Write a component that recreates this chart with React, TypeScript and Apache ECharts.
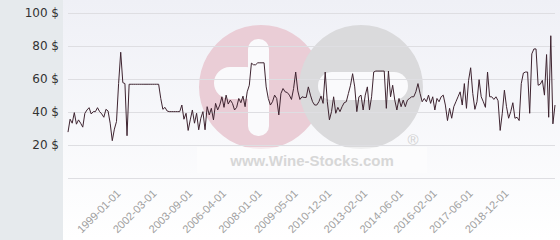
import React, { useEffect, useRef } from "react";
import * as echarts from "echarts";

// Prices, one per auction, left to right
const prices: number[] = [
  28, 35.8, 33.4, 39.8, 32.8, 35.4, 33.4, 31, 39.4, 41.4, 42.8, 39, 40.4, 40.4, 42.8, 40.4, 39, 37, 41.8, 40.8,
  33.4, 22.8, 29.8, 34.4, 57.4, 76.4, 58, 57.4, 25.8, 57,
  57, 57, 57, 57, 57, 57, 57, 57, 57, 57, 57, 57, 57, 57,
  48.4, 41.8, 43, 40.8, 40.4,
  40.4, 40.4, 40.4, 40.4, 40.4,
  44.4, 35.8, 39.4, 29, 35.4, 41.4, 33.4, 39.4, 29.4, 36.4, 40.4, 29.4, 43.4, 38.4, 42.4, 35.4, 45.4, 41.4, 44.4, 49.4,
  43, 50.4, 45, 47.4,
  45.4, 41.4, 43, 48.4, 45.8, 49.8, 43.4, 52.4, 56.4, 69.8, 68.8, 68.8, 70,
  70, 70, 70,
  55.4, 48.4, 44.4, 46.4, 50.4, 48.4, 38.4, 51.4, 54.4, 52.4, 52, 50.4, 47.8, 54.4, 64.4, 53, 47.8, 49.4, 49, 49,
  55.4,
  50.4, 46.4, 44.4, 44.4, 46.4, 49.8, 45.4, 64.4, 46.4, 35.4, 40.4, 49.4, 39.4, 43, 40.4, 43.4, 45.8, 46.4, 51.4, 56.4,
  63.4, 55.4, 40.4, 49.4, 50.4, 41.4, 50.4, 55.4, 41.4, 49.4, 64.4,
  65, 65, 65, 65, 65,
  42.4, 65, 49.4,
  56.4, 47.4, 41.4, 48.4, 43.4, 47.4, 43.4, 47.4, 48.4, 49.4, 49.4, 52.4, 57.4, 51.4, 46.4, 48.4, 46.4, 50.4, 45.4, 49.4,
  41.4, 48.4, 46.4, 49.4, 50.4, 44.4, 35, 42.4, 36.4, 43.4, 46.4, 49.4, 52.4, 44.4, 57.4, 42.4, 59.4, 67, 51.4, 41.8,
  46.4, 59.8, 49.4, 46.4,
  43, 64.4, 49.4, 49.4, 47.8, 49.4, 47, 29, 39.4, 53.4, 43.4, 36.4, 40.4, 45.8, 36.4, 37, 35, 57.4, 63.8, 64.4, 64.4,
  39.4, 75.4, 78.4, 78.4,
  56.4, 57, 59.4, 50.4, 75, 37, 86.4, 33, 44.4,
];

// Dates shown on the x axis and the auction index each one belongs to
const labelDates: string[] = [
  "1999-01-01", "2002-03-01", "2003-09-01", "2006-04-01", "2008-01-01", "2009-05-01",
  "2010-12-01", "2013-02-01", "2014-06-01", "2016-02-01", "2017-06-01", "2018-12-01",
];
const labelIndex: number[] = [24, 41, 58, 74, 91, 108, 124, 141, 158, 174, 191, 208];

// Y axis ticks
const yTicks: number[] = [0, 20, 40, 60, 80, 100];

export default function App() {
  const ref = useRef<HTMLDivElement>(null);

  useEffect(() => {
    if (!ref.current) return;
    const chart = echarts.init(ref.current, undefined, { renderer: "svg" });

    const categories: string[] = prices.map(() => "");
    labelIndex.forEach((idx, k) => {
      categories[idx] = labelDates[k];
    });

    const pink = "#eacdd6";
    const grey = "#dadadc";
    const white = "#fafafc";

    chart.setOption({
      animation: false,
      backgroundColor: "#ffffff",
      graphic: [
        {
          type: "rect",
          z: -100,
          silent: true,
          shape: { x: 0, y: 0, width: 63, height: 240 },
          style: { fill: "#e6eaed" },
        },
        {
          type: "rect",
          z: -100,
          silent: true,
          shape: { x: 63, y: 0, width: 497, height: 240 },
          style: {
            fill: new echarts.graphic.LinearGradient(0, 0, 0, 1, [
              { offset: 0, color: "#eff0f6" },
              { offset: 1, color: "#ffffff" },
            ]),
          },
        },
        // watermark logo
        { type: "circle", z: -50, silent: true, shape: { cx: 261, cy: 87, r: 62 }, style: { fill: pink } },
        { type: "circle", z: -49, silent: true, shape: { cx: 361, cy: 87, r: 62 }, style: { fill: grey } },
        { type: "rect", z: -48, silent: true, shape: { x: 248, y: 39, width: 21, height: 97, r: 10 }, style: { fill: white } },
        { type: "rect", z: -48, silent: true, shape: { x: 214, y: 67, width: 48, height: 32, r: 16 }, style: { fill: white } },
        { type: "rect", z: -48, silent: true, shape: { x: 318, y: 72, width: 90, height: 28, r: 14 }, style: { fill: white } },
        { type: "rect", z: -48, silent: true, shape: { x: 197, y: 147, width: 230, height: 26 }, style: { fill: "#fdfdfe", opacity: 0.6 } },
        {
          type: "text",
          z: -47,
          silent: true,
          x: 312,
          y: 160,
          style: {
            text: "www.Wine-Stocks.com",
            fill: "#d7d7d7",
            font: "bold 15px 'Liberation Sans', Arial, sans-serif",
            align: "center",
            verticalAlign: "middle",
          },
        },
        {
          type: "text",
          z: -47,
          silent: true,
          x: 413,
          y: 139,
          style: {
            text: "®",
            fill: "#d2d2d2",
            font: "15px 'Liberation Sans', Arial, sans-serif",
            align: "center",
            verticalAlign: "middle",
          },
        },
      ],
      grid: { left: 68, right: 5, top: 13.3, bottom: 61.7, containLabel: false },
      xAxis: {
        type: "category",
        data: categories,
        boundaryGap: false,
        axisLine: { show: false },
        axisTick: { show: false },
        splitLine: { show: false },
        axisLabel: {
          interval: 0,
          rotate: 45,
          margin: 13,
          color: "#a0a0a0",
          fontSize: 11,
          fontFamily: "'Liberation Sans', Arial, sans-serif",
        },
      },
      yAxis: {
        type: "value",
        min: yTicks[0],
        max: yTicks[yTicks.length - 1],
        interval: 20,
        axisLine: { show: false },
        axisTick: { show: false },
        splitLine: { show: true, lineStyle: { color: "#dedee2", width: 1 } },
        axisLabel: {
          margin: 9,
          color: "#333333",
          fontSize: 12,
          fontFamily: "'DejaVu Sans', sans-serif",
          formatter: (v: number) => (v === 0 ? "" : `${v} $`),
        },
      },
      series: [
        {
          type: "line",
          data: prices,
          showSymbol: false,
          symbol: "none",
          lineStyle: { color: "#3e2430", width: 1 },
          z: 5,
        },
      ],
    });

    return () => chart.dispose();
  }, []);

  return (
    <div
      ref={ref}
      style={{ position: "fixed", left: 0, top: 0, width: 560, height: 240 }}
    />
  );
}
